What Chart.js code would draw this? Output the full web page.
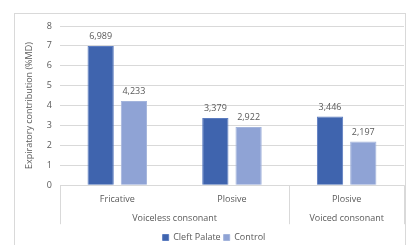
<!DOCTYPE html>
<html>
<head>
<meta charset="utf-8">
<script src="https://cdn.jsdelivr.net/npm/chart.js"></script>
<style>
  html, body { margin: 0; padding: 0; background: #fff; }
  #wrap { width: 406px; height: 245px; }
</style>
</head>
<body>
<div id="wrap"><canvas id="myChart" width="406" height="245"></canvas></div>
<script>
  const categories = ['Fricative', 'Plosive', 'Plosive'];
  const groups = ['Voiceless consonant', 'Voiced consonant'];
  const groupSpans = [2, 1];
  const cleftPalate = [6.989, 3.379, 3.446];
  const control = [4.233, 2.922, 2.197];
  const yTicks = [0, 1, 2, 3, 4, 5, 6, 7, 8];

  const textColor = '#595959';
  const fontFam = '"Open Sans", "Liberation Sans", sans-serif';

  // outer frame like the excel chart area
  const framePlugin = {
    id: 'frame',
    beforeDraw(chart) {
      const c = chart.ctx;
      c.save();
      c.fillStyle = '#fff';
      c.fillRect(0, 0, chart.width, chart.height);
      c.strokeStyle = '#d9d9d9';
      c.lineWidth = 1;
      c.strokeRect(14.5, 13.5, 391, 260);
      c.restore();
    }
  };

  // numbers over bars, decimal comma
  const valueLabels = {
    id: 'valueLabels',
    afterDatasetsDraw(chart) {
      const c = chart.ctx;
      c.save();
      c.font = '9px ' + fontFam;
      c.fillStyle = textColor;
      c.textAlign = 'center';
      c.textBaseline = 'bottom';
      chart.data.datasets.forEach((ds, i) => {
        chart.getDatasetMeta(i).data.forEach((bar, j) => {
          c.fillText(ds.data[j].toFixed(3).replace('.', ','), bar.x, bar.y - 5);
        });
      });
      c.restore();
    }
  };

  // second row of category labels + dividers
  const groupAxis = {
    id: 'groupAxis',
    afterDraw(chart) {
      const x = chart.scales.x;
      const c = chart.ctx;
      const top = chart.chartArea.bottom;
      const step = (x.getPixelForValue(1) - x.getPixelForValue(0));
      c.save();
      c.strokeStyle = '#d9d9d9';
      c.lineWidth = 1;
      c.font = '9px ' + fontFam;
      c.fillStyle = textColor;
      c.textAlign = 'center';
      c.textBaseline = 'middle';
      let idx = 0;
      const edges = [x.getPixelForValue(0) - step / 2];
      groups.forEach((g, k) => {
        const start = x.getPixelForValue(idx) - step / 2;
        idx += groupSpans[k];
        const end = x.getPixelForValue(idx - 1) + step / 2;
        edges.push(end);
        c.fillText(g, (start + end) / 2, top + 33);
      });
      edges.forEach(e => {
        const px = Math.round(e) + 0.5;
        c.beginPath();
        c.moveTo(px, top);
        c.lineTo(px, top + 39);
        c.stroke();
      });
      c.restore();
    }
  };

  const ctx = document.getElementById('myChart').getContext('2d');
  new Chart(ctx, {
    type: 'bar',
    data: {
      labels: categories,
      datasets: [
        {
          label: 'Cleft Palate',
          data: cleftPalate,
          backgroundColor: '#3f64ae',
          borderColor: '#5b7cc0',
          borderWidth: 1,
          categoryPercentage: 0.58,
          barPercentage: 0.79
        },
        {
          label: 'Control',
          data: control,
          backgroundColor: '#8fa3d5',
          borderColor: '#a3b4dc',
          borderWidth: 1,
          categoryPercentage: 0.58,
          barPercentage: 0.79
        }
      ]
    },
    options: {
      responsive: false,
      animation: false,
      layout: { padding: { left: 24, right: 2, top: 26, bottom: -7 } },
      plugins: {
        legend: {
          position: 'bottom',
          labels: {
            boxWidth: 6,
            boxHeight: 6,
            padding: 3,
            color: textColor,
            font: { size: 9, family: fontFam }
          }
        },
        tooltip: { enabled: false }
      },
      scales: {
        x: {
          grid: { display: false },
          border: { display: false },
          ticks: {
            color: textColor,
            font: { size: 9, family: fontFam },
            padding: 1
          },
          afterFit(scale) { scale.height += 24; }
        },
        y: {
          min: 0,
          max: 8,
          afterBuildTicks(scale) { scale.ticks = yTicks.map(v => ({ value: v })); },
          grid: { color: '#d9d9d9', drawTicks: false },
          border: { display: false },
          ticks: {
            color: textColor,
            font: { size: 9, family: fontFam },
            padding: 8
          },
          title: {
            display: true,
            text: 'Expiratory contribution (%MD)',
            color: textColor,
            font: { size: 9, family: fontFam },
            padding: { top: 0, bottom: 4 }
          }
        }
      }
    },
    plugins: [framePlugin, valueLabels, groupAxis]
  });
</script>
</body>
</html>
